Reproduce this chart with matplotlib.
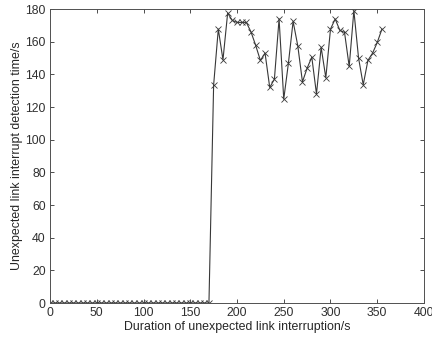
import matplotlib
matplotlib.use("Agg")
import matplotlib.pyplot as plt
import numpy as np

plt.rcParams['font.family'] = ['Liberation Sans', 'DejaVu Sans']

# Data
zero_x = list(range(0, 171, 5))
zero_y = [0] * len(zero_x)
high_x = list(range(175, 356, 5))
high_y = [133.4, 167.7, 148.9, 177.5, 173, 171.8, 171.8, 171.8, 165.9, 157.7,
          148.5, 153, 132, 137, 174, 124.8, 146.9, 172.4, 157.5, 135.4,
          143.8, 150.5, 128, 156.5, 137.9, 167.7, 173.9, 166.9, 165.7, 144.8,
          179, 150, 133.6, 148.5, 153, 159.5, 167.7]
x = zero_x + high_x
y = zero_y + high_y

xticks = [0, 50, 100, 150, 200, 250, 300, 350, 400]
yticks = [0, 20, 40, 60, 80, 100, 120, 140, 160, 180]

fig = plt.figure(figsize=(4.32, 3.43), dpi=100)
ax = fig.add_axes([50/432, 40/343, 374/432, 294/343])
ax.plot(x, y, color='#383838', linewidth=0.8, marker='x', markersize=4,
        markeredgewidth=0.6)
ax.set_xlim(0, 400)
ax.set_ylim(0, 180)
ax.set_xticks(xticks)
ax.set_yticks(yticks)
ax.tick_params(direction='in', length=3, width=0.6, labelsize=8.8, colors='#303030',
               top=True, right=True, pad=3)
for s in ax.spines.values():
    s.set_color('#505050')
    s.set_linewidth(0.7)
ax.set_xlabel('Duration of unexpected link interruption/s', fontsize=8.9, color='#262626', labelpad=1.5)
ax.set_ylabel('Unexpected link interrupt detection time/s', fontsize=8.9, color='#262626', labelpad=2)
fig.savefig('out.png', dpi=100)
